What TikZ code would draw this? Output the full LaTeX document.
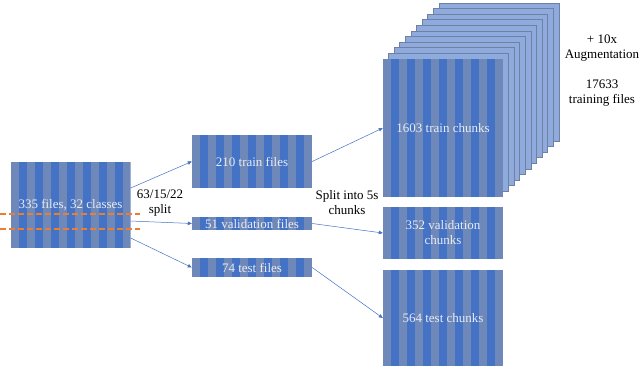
\documentclass[tikz,border=0pt]{standalone}
\usepackage{fontspec}
\setmainfont{Liberation Serif}
\usepackage{tikz}
\usetikzlibrary{arrows.meta, positioning, calc}

\definecolor{stripeblue}{RGB}{68,114,196}
\definecolor{stripegrey}{RGB}{110,137,185}
\definecolor{copyblue}{RGB}{143,170,220}
\definecolor{copyedge}{RGB}{112,128,160}
\definecolor{splitorange}{RGB}{237,125,49}
\definecolor{labelwhite}{RGB}{232,236,244}

\tikzset{
  databox/.style={inner sep=0pt, minimum width=120pt, text=labelwhite, align=center,
    font=\fontsize{13}{15}\selectfont,
    path picture={
      \fill[stripegrey] (path picture bounding box.south west) rectangle (path picture bounding box.north east);
      \foreach \k in {1,3,...,13} {
        \fill[stripeblue] let \p1=(path picture bounding box.south west), \p2=(path picture bounding box.north east) in
          (\x1+\k*8pt,\y1) rectangle (\x1+\k*8pt+8pt,\y2);
      }
    }},
  flow/.style={-{Triangle[length=4pt,width=3.5pt]}, stripeblue, line width=0.5pt},
  note/.style={font=\fontsize{13}{15}\selectfont, align=center}
}

\begin{document}
\begin{tikzpicture}[x=1pt, y=-1pt]
  \fill[white] (0,0) rectangle (640,367);
  \useasboundingbox (0,0) rectangle (640,367);

  % 原始数据集
  \node[databox, minimum height=86pt] (all) at (70.5,205) {335 files, 32 classes};
  \foreach \y in {214,229} {
    \draw[splitorange, line width=1.2pt, dash pattern=on 6pt off 3pt] (0,\y) -- (140,\y);
  }

  % 划分后的文件
  \node[databox, minimum height=53pt] (trainf) at (252,161.5) {210 train files};
  \node[databox, minimum height=13pt] (valf) at (252,223.5) {51 validation files};
  \node[databox, minimum height=19pt] (testf) at (252,267.5) {74 test files};

  % 数据增强的副本
  \foreach \k in {10,...,1} {
    \draw[fill=copyblue, draw=copyedge, line width=1pt] (383+\k*5.6,59-\k*5.6) rectangle ++(120,138);
  }

  % 切分后的片段
  \node[databox, minimum height=138pt] (trainc) at (443,128) {1603 train chunks};
  \node[databox, minimum height=52pt] (valc) at (443,233) {352 validation\\chunks};
  \node[databox, minimum height=96pt] (testc) at (443,318) {564 test chunks};

  % 说明文字
  \node[note] (ratio) at (160,203) {63/15/22\\split};
  \node[note] (chunking) at (347,203) {Split into 5s\\chunks};
  \node[note] (aug) at (602,48) {+ 10x\\Augmentation};
  \node[note] (total) at (602,93) {17633\\training files};

  % 连线
  \draw[flow] ([yshift=17pt]all.east) -- (trainf.west);
  \draw[flow] ([yshift=-16pt]all.east) -- (valf.west);
  \draw[flow] ([yshift=-33pt]all.east) -- (testf.west);
  \draw[flow] (trainf.east) -- (trainc.west);
  \draw[flow] (valf.east) -- (valc.west);
  \draw[flow] (testf.east) -- (testc.west);
\end{tikzpicture}
\end{document}
